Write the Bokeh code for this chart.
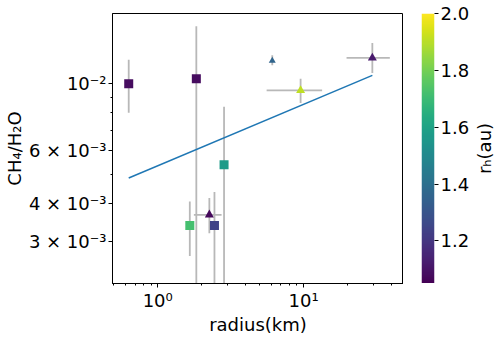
import numpy as np
from bokeh.plotting import figure
from bokeh.layouts import row
from bokeh.core.properties import value
from bokeh.models import LinearColorMapper, FixedTicker, ColumnDataSource
from bokeh.palettes import Viridis256
from bokeh.embed import file_html
from bokeh.resources import INLINE

# --- data ---
sq_r = [0.633, 1.84, 2.85, 1.66, 2.45]
sq_y = [0.0100, 0.01039, 0.00539, 0.00339, 0.00339]
sq_ylo = [0.00801, 0.0019, 0.0019, 0.00269, 0.0019]
sq_yhi = [0.0120, 0.01549, 0.00839, 0.00407, 0.00438]
sq_rh = [1.08, 1.08, 1.57, 1.72, 1.24]

tri_r = [2.26, 6.1, 9.54, 29.6]
tri_y = [0.00368, 0.01191, 0.00950, 0.01217]
tri_ylo = [0.0032, 0.0115, 0.00863, 0.01085]
tri_yhi = [0.00418, 0.01241, 0.01039, 0.01364]
tri_rlo = [1.77, 6.1, 5.58, 19.7]
tri_rhi = [2.74, 6.1, 13.4, 39.0]
tri_rh = [1.07, 1.36, 1.91, 1.12]
tri_size = [9, 7, 9, 9]

fit_r = [0.633, 29.6]
fit_y = [0.00487, 0.01065]

y_major = [0.003, 0.004, 0.006, 0.01]
y_labels = ["3 × 10⁻³", "4 × 10⁻³", "6 × 10⁻³", "10⁻²"]
y_minor = [0.005, 0.007, 0.008, 0.009]
x_major = [1, 10]
x_labels = ["10⁰", "10¹"]
x_minor = [0.5, 0.6, 0.7, 0.8, 0.9, 2, 3, 4, 5, 6, 7, 8, 9, 20, 30, 40]
cb_low, cb_high = 1.05, 2.0
cb_ticks = [1.2, 1.4, 1.6, 1.8, 2.0]
cb_labels = ["1.2", "1.4", "1.6", "1.8", "2.0"]
cb_title = "rₕ(au)"

FONT = "DejaVu Sans"
FS = "18px"
TOP = 13


def style_axis(ax):
    ax.axis_line_color = "black"
    ax.major_tick_line_color = "black"
    ax.minor_tick_line_color = "black"
    ax.major_tick_out = 4
    ax.major_tick_in = 0
    ax.minor_tick_out = 2
    ax.minor_tick_in = 0
    ax.major_label_text_font = FONT
    ax.major_label_text_font_size = FS
    ax.major_label_text_color = "black"
    ax.axis_label_text_font = FONT
    ax.axis_label_text_font_size = FS
    ax.axis_label_text_font_style = "normal"
    ax.axis_label_text_color = "black"


p = figure(x_axis_type="log", y_axis_type="log",
           x_range=(0.49, 48.4), y_range=(0.00218, 0.01707),
           frame_width=291, frame_height=270,
           output_backend="svg", toolbar_location=None,
           min_border_left=0, min_border_top=TOP, min_border_bottom=0,
           min_border_right=0)
p.grid.visible = False
p.outline_line_color = "black"
p.outline_line_width = 1

mapper = LinearColorMapper(palette=Viridis256, low=cb_low, high=cb_high)

style_axis(p.xaxis[0])
style_axis(p.yaxis[0])
p.xaxis.ticker = FixedTicker(ticks=x_major, minor_ticks=x_minor)
p.yaxis.ticker = FixedTicker(ticks=y_major, minor_ticks=y_minor)
p.xaxis.major_label_overrides = {float(k): v for k, v in zip(x_major, x_labels)}
p.yaxis.major_label_overrides = {float(k): v for k, v in zip(y_major, y_labels)}
p.xaxis.axis_label = "radius(km)"
p.yaxis.axis_label = "CH₄/H₂O"
p.xaxis.axis_label_standoff = 0
p.yaxis.axis_label_standoff = 1
p.xaxis.major_label_standoff = 2
p.yaxis.major_label_standoff = 2

ecol = "#b8b8b8"
p.segment(x0=sq_r, y0=sq_ylo, x1=sq_r, y1=sq_yhi, line_color=ecol, line_width=1.8)
p.segment(x0=tri_r, y0=tri_ylo, x1=tri_r, y1=tri_yhi, line_color=ecol, line_width=1.8)
p.segment(x0=tri_rlo, y0=tri_y, x1=tri_rhi, y1=tri_y, line_color=ecol, line_width=1.8)

p.line(fit_r, fit_y, line_color="#1f77b4", line_width=1.5)

sq_src = ColumnDataSource(dict(x=sq_r, y=sq_y, c=sq_rh))
tri_src = ColumnDataSource(dict(x=tri_r, y=tri_y, c=tri_rh, s=tri_size))
p.scatter("x", "y", source=sq_src, marker="square", size=9,
          fill_color={"field": "c", "transform": mapper}, line_color=None)
p.scatter("x", "y", source=tri_src, marker="triangle", size="s",
          fill_color={"field": "c", "transform": mapper}, line_color=None)

# --- colour bar as its own small figure ---
grad = np.linspace(cb_low, cb_high, 256).reshape(256, 1)
cb = figure(x_range=(0, 1), y_range=(cb_low, cb_high),
            frame_width=13, frame_height=270, y_axis_location="right",
            output_backend="svg", toolbar_location=None,
            min_border_left=18, min_border_top=TOP, min_border_bottom=0,
            min_border_right=0)
cb.image(image=[grad], x=0, y=cb_low, dw=1, dh=cb_high - cb_low,
         color_mapper=mapper)
cb.grid.visible = False
cb.xaxis.visible = False
cb.outline_line_color = None
style_axis(cb.yaxis[0])
cb.yaxis.axis_line_color = None
cb.yaxis.ticker = FixedTicker(ticks=cb_ticks, minor_ticks=[])
cb.yaxis.major_label_overrides = {float(k): v for k, v in zip(cb_ticks, cb_labels)}
cb.yaxis.major_tick_out = 4
cb.yaxis.major_label_standoff = 2

# --- colour bar title in its own narrow figure ---
lab = figure(x_range=(0, 1), y_range=(0, 1), frame_width=24, frame_height=270,
             output_backend="svg", toolbar_location=None,
             min_border_left=0, min_border_right=0, min_border_top=TOP,
             min_border_bottom=0)
lab.axis.visible = False
lab.grid.visible = False
lab.outline_line_color = None
lab.text(x=[0.5], y=[0.5], text=[cb_title], angle=np.pi / 2,
         text_align="center", text_baseline="middle",
         text_font=value(FONT), text_font_size=FS, text_color="black")

layout = row(p, cb, lab, spacing=0)
open("out.html", "w").write(file_html(layout, INLINE))
